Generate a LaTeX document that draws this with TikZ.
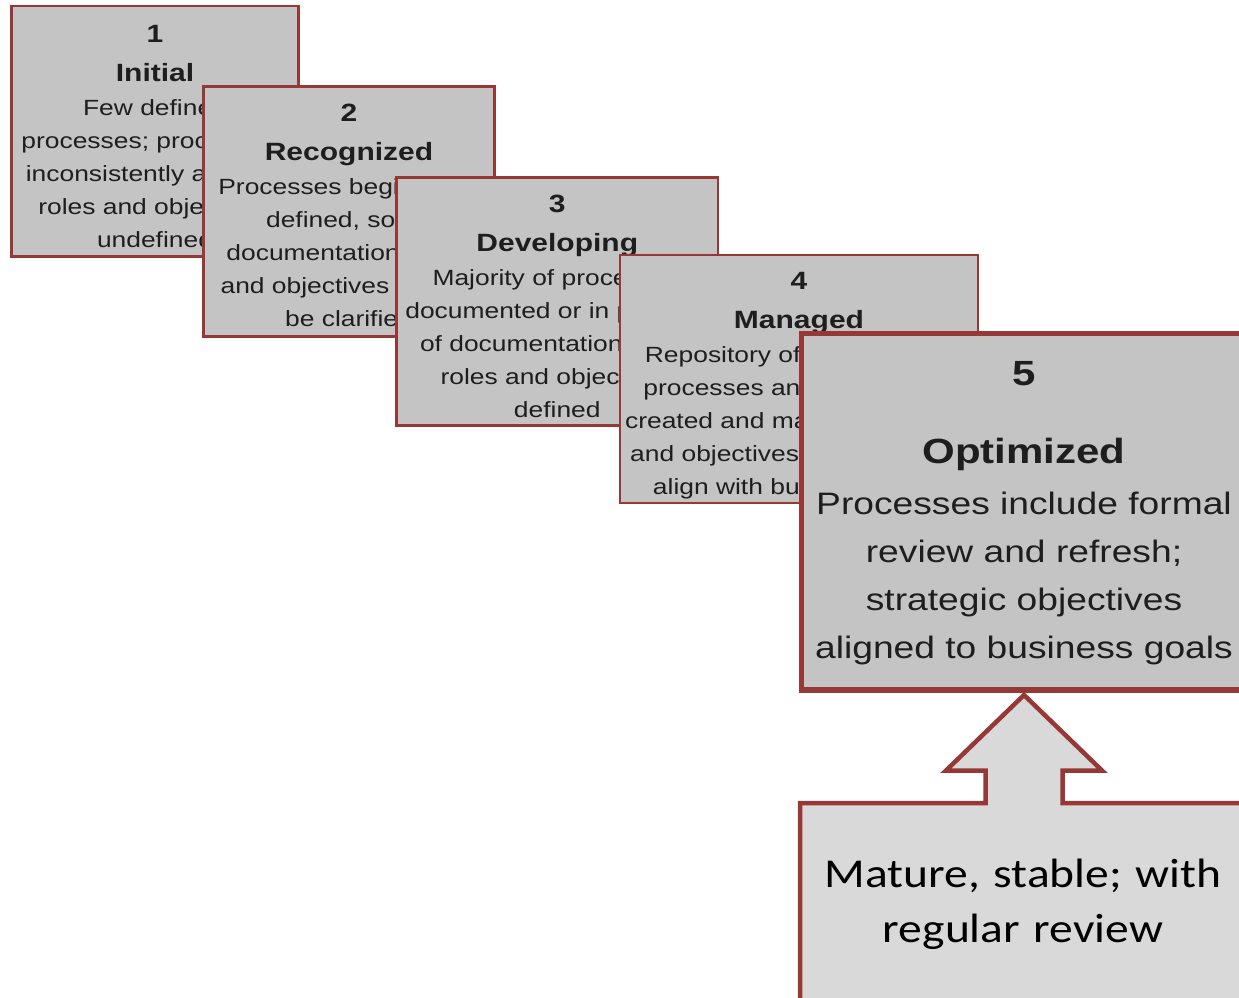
\documentclass[tikz,border=0pt]{standalone}
\usepackage{fontspec}
\newfontfamily\arx{Liberation Sans}[FakeStretch=1.2]
\newfontfamily\calx{Carlito}[FakeStretch=1.16]
\definecolor{bord}{RGB}{150,56,54}
\definecolor{boxfill}{RGB}{196,196,196}
\definecolor{calfill}{RGB}{217,217,217}
\definecolor{ink}{RGB}{30,30,30}
\newcommand\ttl[1]{{\bfseries\fontsize{25}{33}\selectfont #1}}
\newcommand\bigttl[1]{{\bfseries\fontsize{35}{48}\selectfont #1}}
\tikzset{
  stagebox/.style={draw=bord, fill=boxfill, line width=2.5pt, rectangle, inner sep=0pt},
  stagetext/.style={anchor=north, inner sep=0pt, text width=400pt, align=center,
    text=ink, font=\arx\fontsize{22}{33}\selectfont},
  toptext/.style={anchor=north, inner sep=0pt, text width=480pt, align=center,
    text=ink, font=\arx\fontsize{31}{48}\selectfont},
  calltext/.style={anchor=north, inner sep=0pt, text width=440pt, align=center,
    text=black, font=\calx\fontsize{41}{55}\selectfont},
}
\begin{document}
\begin{tikzpicture}[x=1pt,y=-1pt]
\useasboundingbox (0,0) rectangle (1239,997);
\clip (0,0) rectangle (1239,997);
% stage 1
\node[stagebox, minimum width=287pt, minimum height=250.5pt] (b1) at (155,131.25) {};
\node[stagetext] (t1) at (155,18.9) {\strut\ttl{1}\\[6pt]\ttl{Initial}\\[1pt]
  Few defined\\processes; procedures\\inconsistently applied;\\roles and objectives\\undefined};
% stage 2
\node[stagebox, minimum width=291pt, minimum height=250pt] (b2) at (349,211.5) {};
\node[stagetext] (t2) at (349,97.9) {\strut\ttl{2}\\[6pt]\ttl{Recognized}\\[1pt]
  Processes begin to be\\defined, some\\documentation; roles\\and objectives start to\\be clarified};
% stage 3
\node[stagebox, minimum width=321.5pt, minimum height=248pt] (b3) at (557.25,301.5) {};
\node[stagetext] (t3) at (557.25,188.9) {\strut\ttl{3}\\[6pt]\ttl{Developing}\\[1pt]
  Majority of processes\\documented or in process\\of documentation; most\\roles and objectives\\defined};
% stage 4
\node[stagebox, minimum width=358pt, minimum height=248pt] (b4) at (799,379) {};
\node[stagetext] (t4) at (799,265.9) {\strut\ttl{4}\\[6pt]\ttl{Managed}\\[1pt]
  Repository of documented\\processes and procedures\\created and maintained; roles\\and objectives are defined to\\align with business goals};
% stage 5
\node[stagebox, line width=5.5pt, minimum width=445pt, minimum height=356.5pt] (b5) at (1024,511.75) {};
\node[toptext] (t5) at (1024,351.4) {\strut\bigttl{5}\\[30pt]\bigttl{Optimized}\\[3pt]
  Processes include formal\\review and refresh;\\strategic objectives\\aligned to business goals};
% callout with arrow
\draw[draw=bord, fill=calfill, line width=4.5pt, line join=miter]
  (800,1012) -- (800,803) -- (985.5,803) -- (985.5,770.5) -- (946,770.5)
  -- (1024,695) -- (1102,770.5) -- (1062.5,770.5) -- (1062.5,803)
  -- (1262,803) -- (1262,1012) -- cycle;
\node[calltext] (c1) at (1023,848.5) {\strut Mature, stable; with\\regular review};
\end{tikzpicture}
\end{document}
